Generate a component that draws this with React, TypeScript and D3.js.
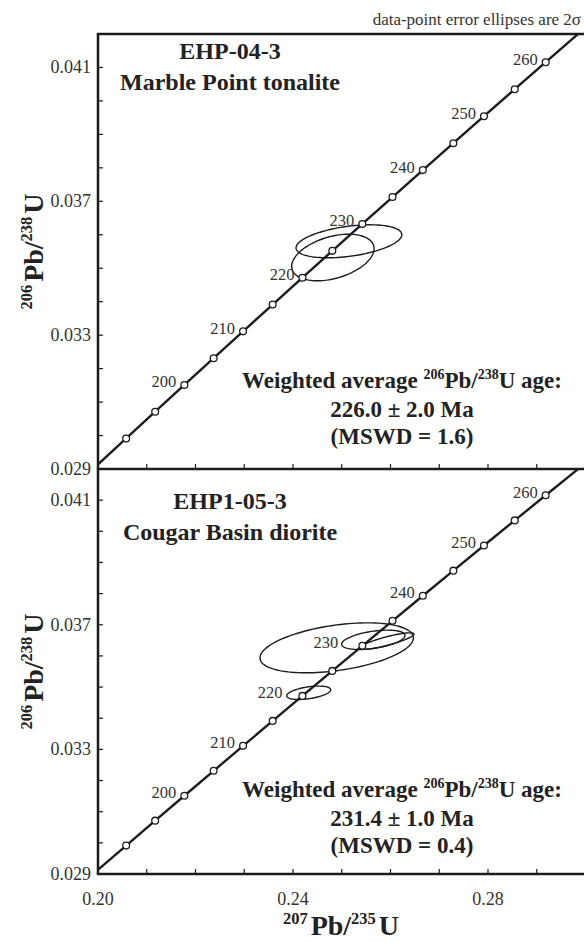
import React from 'react';
import * as d3 from 'd3';

// concordia ages (Ma) and their ratios
const concordiaAge = [185, 190, 195, 200, 205, 210, 215, 220, 225, 230, 235, 240, 245, 250, 255, 260, 265, 270];
const concordia207 = [0.19985, 0.205774, 0.211726, 0.217708, 0.223719, 0.229759, 0.23583, 0.24193, 0.248061, 0.254222, 0.260413, 0.266635, 0.272888, 0.279171, 0.285486, 0.291832, 0.298208, 0.304617];
const concordia206 = [0.029114, 0.029912, 0.030712, 0.031511, 0.032312, 0.033113, 0.033914, 0.034716, 0.035519, 0.036323, 0.037127, 0.037932, 0.038737, 0.039543, 0.04035, 0.041157, 0.041965, 0.042773];
const markerAges = [190, 195, 200, 205, 210, 215, 220, 225, 230, 235, 240, 245, 250, 255, 260];
const labelAges = [200, 210, 220, 230, 240, 250, 260];

// error ellipses: 207/235, 1s, 206/238, 1s, rho
const topEllipses = [
  { x: 0.25147, sx: 0.005425, y: 0.035805, sy: 0.0002465, rho: 0.4 },
  { x: 0.24818, sx: 0.004225, y: 0.035321, sy: 0.000348, rho: 0.38 },
];
const bottomEllipses = [
  { x: 0.24896, sx: 0.007865, y: 0.03626, sy: 0.000401, rho: 0.4 },
  { x: 0.25647, sx: 0.00325, y: 0.036517, sy: 0.0001555, rho: 0.45 },
  { x: 0.25922, sx: 0.0028, y: 0.036475, sy: 0.000133, rho: 0.85 },
  { x: 0.24322, sx: 0.002255, y: 0.034817, sy: 0.0001075, rho: 0.45 },
];

const xLabelTicks = [0.2, 0.24, 0.28];
const yLabelTicks = [0.029, 0.033, 0.037, 0.041];

const W = 584;
const H = 942;
const left = 98;
const font = 'Liberation Serif, serif';
const ink = '#1c1c1c';
const grey = '#333';

const x = d3.scaleLinear().domain([0.2, 0.3]).range([left, left + 0.1 * 4875]);

const panels = [
  {
    id: 'top', top: 34, bottom: 469, ellipses: topEllipses,
    title: ['EHP-04-3', 'Marble Point tonalite'], titleY: [59, 90],
    age: '226.0 ± 2.0 Ma', mswd: '(MSWD = 1.6)', resY: [388, 417, 444],
    labelShift: {} as Record<number, number>,
  },
  {
    id: 'bottom', top: 469, bottom: 874, ellipses: bottomEllipses,
    title: ['EHP1-05-3', 'Cougar Basin diorite'], titleY: [509, 540],
    age: '231.4 ± 1.0 Ma', mswd: '(MSWD = 0.4)', resY: [797, 826, 853],
    labelShift: { 220: -12, 230: -16 } as Record<number, number>,
  },
];

function Panel({ p }: { p: typeof panels[number] }) {
  const y = d3.scaleLinear().domain([0.029, 0.042]).range([p.bottom, p.top]);
  const pts = concordiaAge.map((a, i) => ({ a, x: concordia207[i], y: concordia206[i] }));
  const line = d3.line<{ x: number; y: number }>().x(d => x(d.x)).y(d => y(d.y));
  const ell = d3.line<[number, number]>().curve(d3.curveLinearClosed);
  const yTicks = d3.range(29, 42).map(v => v / 1000);
  const xTicks = d3.range(21, 30).map(v => v / 100);
  const cy = (p.top + p.bottom) / 2;

  return (
    <g>
      <clipPath id={`clip-${p.id}`}>
        <rect x={left} y={p.top} width={W - left} height={p.bottom - p.top} />
      </clipPath>
      <g clipPath={`url(#clip-${p.id})`}>
        {p.ellipses.map((e, i) => {
          const ring = d3.range(0, 121).map(k => {
            const t = (k / 120) * 2 * Math.PI;
            const dx = 2 * e.sx * Math.cos(t);
            const dy = 2 * e.sy * (e.rho * Math.cos(t) + Math.sqrt(1 - e.rho * e.rho) * Math.sin(t));
            return [x(e.x + dx), y(e.y + dy)] as [number, number];
          });
          return <path key={i} d={ell(ring) || ''} fill="none" stroke={ink} strokeWidth={1.4} />;
        })}
        <path d={line(pts) || ''} fill="none" stroke={ink} strokeWidth={2.4} />
        {pts.filter(d => markerAges.includes(d.a)).map(d => (
          <circle key={d.a} cx={x(d.x)} cy={y(d.y)} r={3.4} fill="#fff" stroke={ink} strokeWidth={1.3} />
        ))}
      </g>
      {pts.filter(d => labelAges.includes(d.a)).map(d => (
        <text key={d.a} x={x(d.x) - 8 + (p.labelShift[d.a] || 0)} y={y(d.y) + 2.5} textAnchor="end"
          fontSize={16.5} fill={grey}>{d.a}</text>
      ))}

      {yTicks.map(v => (
        <line key={v} x1={left} x2={left + 5} y1={y(v)} y2={y(v)} stroke={ink} strokeWidth={1.2} />
      ))}
      {yLabelTicks.map(v => (
        <text key={v} x={left - 7} y={y(v) + 6} textAnchor="end" fontSize={18} fill={grey}>
          {v.toFixed(3)}
        </text>
      ))}
      {xTicks.map(v => (
        <line key={v} x1={x(v)} x2={x(v)} y1={p.bottom} y2={p.bottom - 5} stroke={ink} strokeWidth={1.2} />
      ))}

      <g fontWeight="bold" fill="#222" fontSize={24} textAnchor="middle">
        <text x={230} y={p.titleY[0]}>{p.title[0]}</text>
        <text x={230} y={p.titleY[1]}>{p.title[1]}</text>
      </g>
      <g fontWeight="bold" fill="#222" fontSize={23} textAnchor="middle">
        <text x={402} y={p.resY[0]}>
          Weighted average <tspan fontSize={14} dy={-9}>206</tspan>
          <tspan dy={9}>Pb/</tspan><tspan fontSize={14} dy={-9}>238</tspan>
          <tspan dy={9}>U age:</tspan>
        </text>
        <text x={402} y={p.resY[1]}>{p.age}</text>
        <text x={402} y={p.resY[2]}>{p.mswd}</text>
      </g>

      <text transform={`translate(43, ${cy}) rotate(-90)`} textAnchor="middle" fontWeight="bold" fill="#222" fontSize={28}>
        <tspan fontSize={16.5} dy={-11}>206</tspan>
        <tspan dy={11} dx={3}>Pb/</tspan>
        <tspan fontSize={16.5} dy={-11}>238</tspan>
        <tspan dy={11} dx={3}>U</tspan>
      </text>
    </g>
  );
}

export default function App() {
  return (
    <svg width={W} height={H} style={{ position: 'absolute', left: 0, top: 0, background: '#fff', fontFamily: font }}>
      {panels.map(p => <Panel key={p.id} p={p} />)}

      <line x1={left} x2={left} y1={34} y2={874} stroke={ink} strokeWidth={2.5} />
      {[34, 469, 874].map(v => (
        <line key={v} x1={left - 1.2} x2={W} y1={v} y2={v} stroke={ink} strokeWidth={2.5} />
      ))}

      {xLabelTicks.map(v => (
        <text key={v} x={x(v)} y={905} textAnchor="middle" fontSize={18} fill={grey}>{v.toFixed(2)}</text>
      ))}
      <text x={341} y={935} textAnchor="middle" fontWeight="bold" fill="#222" fontSize={28}>
        <tspan fontSize={16.5} dy={-11}>207</tspan>
        <tspan dy={11} dx={3}>Pb/</tspan>
        <tspan fontSize={16.5} dy={-11}>235</tspan>
        <tspan dy={11} dx={3}>U</tspan>
      </text>

      <text x={581} y={25} textAnchor="end" fontSize={17} fill={grey}>data-point error ellipses are 2σ</text>
    </svg>
  );
}
